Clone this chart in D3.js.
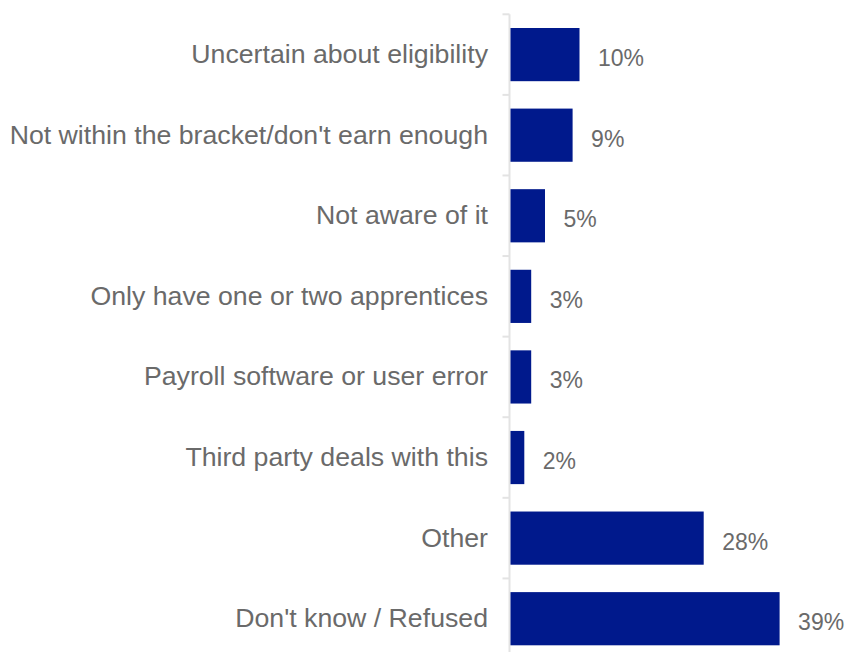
<!DOCTYPE html>
<html>
<head>
<meta charset="utf-8">
<script src="https://cdn.jsdelivr.net/npm/d3@7"></script>
<style>
  html, body { margin: 0; padding: 0; background: #ffffff; }
  svg { display: block; }
  text { font-family: "Liberation Sans", Arial, sans-serif; }
</style>
</head>
<body>
<div id="chart"></div>
<script>
// Reasons given, in display order (top to bottom)
const categories = [
  "Uncertain about eligibility",
  "Not within the bracket/don't earn enough",
  "Not aware of it",
  "Only have one or two apprentices",
  "Payroll software or user error",
  "Third party deals with this",
  "Other",
  "Don't know / Refused"
];

// Share of respondents (%)
const values = [10, 9, 5, 3, 3, 2, 28, 39];

const width = 845, height = 652;
const barColor = "#00198c";
const textColor = "#6a6a6a";
const axisColor = "#e3e3e3";

const svg = d3.select("#chart").append("svg")
  .attr("width", width)
  .attr("height", height);

const y = d3.scaleBand()
  .domain(categories)
  .range([14.3, 659])
  .paddingInner(0.34)
  .paddingOuter(0.17);

const x = d3.scaleLinear()
  .domain([0, 45])
  .range([510.5, 510.5 + 45 * 6.9]);

const rows = categories.map((c, i) => ({ cat: c, val: values[i] }));

// Category axis: vertical line with outward ticks between bands
const axisX = 509.5;
const gap = (y.step() - y.bandwidth()) / 2;
const boundaries = categories.map(c => y(c) - gap);

const axis = svg.append("g");
axis.append("line")
  .attr("x1", axisX).attr("x2", axisX)
  .attr("y1", y.range()[0]).attr("y2", y.range()[1])
  .attr("stroke", axisColor).attr("stroke-width", 2);
axis.selectAll("line.tick")
  .data(boundaries)
  .join("line")
  .attr("class", "tick")
  .attr("x1", axisX - 7).attr("x2", axisX)
  .attr("y1", d => d).attr("y2", d => d)
  .attr("stroke", axisColor).attr("stroke-width", 2);

// Bars
svg.append("g").selectAll("rect")
  .data(rows)
  .join("rect")
  .attr("x", x(0))
  .attr("y", d => y(d.cat))
  .attr("width", d => x(d.val) - x(0))
  .attr("height", y.bandwidth())
  .attr("fill", barColor);

// Category labels
svg.append("g").selectAll("text")
  .data(rows)
  .join("text")
  .attr("x", 488)
  .attr("y", d => y(d.cat) + y.bandwidth() / 2 + 8.5)
  .attr("text-anchor", "end")
  .attr("font-size", "26.7px")
  .attr("fill", textColor)
  .text(d => d.cat);

// Value labels
svg.append("g").selectAll("text")
  .data(rows)
  .join("text")
  .attr("x", d => x(d.val) + 18.5)
  .attr("y", d => y(d.cat) + y.bandwidth() / 2 + 11.5)
  .attr("font-size", "23px")
  .attr("fill", textColor)
  .text(d => d.val + "%");
</script>
</body>
</html>
